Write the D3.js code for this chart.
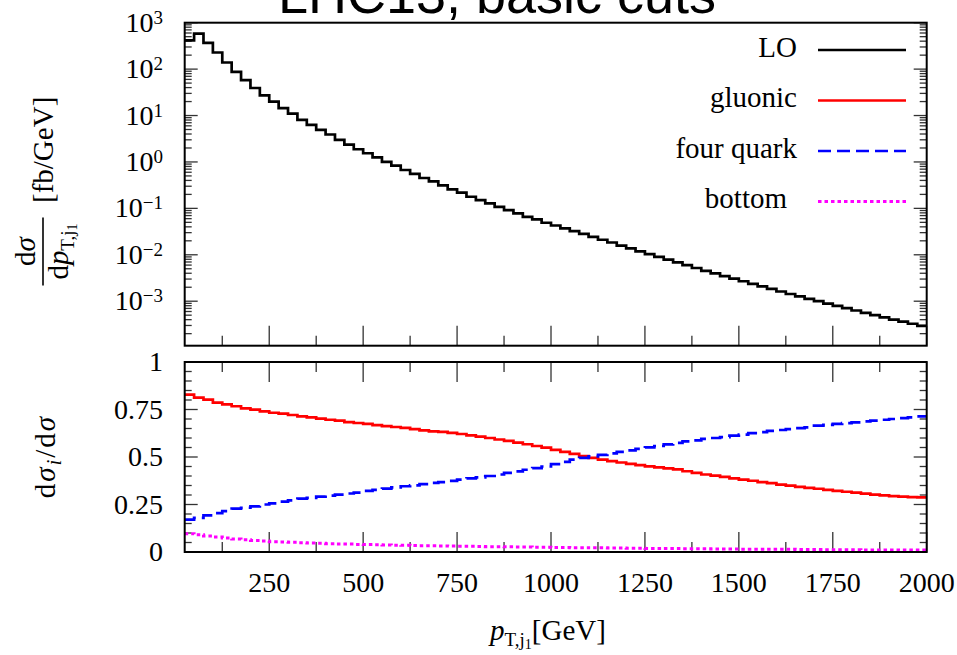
<!DOCTYPE html>
<html><head><meta charset="utf-8">
<script src="https://cdn.jsdelivr.net/npm/d3@7"></script>
<style>
body{margin:0;background:#fff}
svg{display:block}
text{font-family:"Liberation Serif","Times New Roman",serif;fill:#000}
</style>
</head><body>
<svg id="c" width="957" height="655"></svg>
<script>
// ---------- data ----------
const binStart = d3.range(25, 2000, 25);   // lower bin edges [GeV]
const binWidth = 25;
const loValues = [418,581,366,228,139,87.5,58.1,39.2,27.3,20.0,
  14.5,11.0,8.1,6.3,4.9,3.9,3.0,2.37,1.88,1.54,
  1.26,1.00,0.834,0.671,0.551,0.451,0.382,0.313,0.257,0.218,
  0.178,0.151,0.128,0.108,0.0918,0.0778,0.0659,0.0578,0.0490,0.0427,
  0.0372,0.0324,0.0282,0.0243,0.0211,0.0184,0.0158,0.0138,0.0119,0.01035,
  0.00902,0.00785,0.00684,0.00596,0.00519,0.00452,0.00398,0.00347,0.00305,0.00269,
  0.00237,0.00209,0.00184,0.00162,0.00143,0.00127,0.00112,0.00100,0.00089,0.000794,
  0.000708,0.000631,0.000562,0.000501,0.000447,0.000403,0.000363,0.000327,0.000295];
const gluonicRatio = [0.828,0.812,0.802,0.786,0.777,0.767,0.756,0.749,0.740,0.733,
  0.728,0.721,0.714,0.709,0.702,0.696,0.691,0.684,0.679,0.674,
  0.668,0.663,0.658,0.653,0.647,0.640,0.635,0.632,0.627,0.621,
  0.614,0.607,0.600,0.592,0.585,0.576,0.567,0.558,0.549,0.538,
  0.527,0.516,0.505,0.495,0.486,0.478,0.471,0.464,0.457,0.451,
  0.445,0.440,0.435,0.425,0.416,0.408,0.402,0.395,0.388,0.381,
  0.375,0.368,0.362,0.355,0.349,0.343,0.338,0.333,0.327,0.322,
  0.317,0.312,0.307,0.302,0.298,0.294,0.291,0.289,0.287];
const fourQuarkRatio = [0.170,0.180,0.193,0.205,0.215,0.228,0.233,0.240,0.250,0.256,
  0.265,0.272,0.281,0.285,0.291,0.297,0.302,0.308,0.313,0.322,
  0.327,0.334,0.340,0.346,0.351,0.357,0.364,0.368,0.374,0.381,
  0.387,0.393,0.400,0.408,0.416,0.424,0.433,0.441,0.450,0.462,
  0.474,0.486,0.495,0.503,0.511,0.519,0.527,0.535,0.543,0.551,
  0.558,0.566,0.574,0.582,0.588,0.595,0.600,0.605,0.612,0.618,
  0.626,0.631,0.637,0.642,0.647,0.652,0.656,0.665,0.669,0.674,
  0.678,0.682,0.687,0.691,0.696,0.700,0.705,0.709,0.714];
const bottomRatio = [0.096,0.091,0.084,0.079,0.074,0.068,0.065,0.061,0.058,0.054,
  0.053,0.051,0.049,0.047,0.046,0.044,0.042,0.042,0.040,0.039,
  0.038,0.037,0.036,0.035,0.034,0.033,0.033,0.032,0.031,0.030,
  0.030,0.029,0.028,0.028,0.027,0.026,0.026,0.025,0.025,0.024,
  0.024,0.023,0.023,0.022,0.022,0.021,0.021,0.020,0.020,0.019,
  0.019,0.018,0.018,0.017,0.017,0.017,0.016,0.016,0.016,0.015,
  0.015,0.015,0.014,0.014,0.014,0.013,0.013,0.013,0.012,0.012,
  0.012,0.012,0.011,0.011,0.011,0.011,0.010,0.010,0.010];
const xMajorTicks = [250,500,750,1000,1250,1500,1750,2000];
const xMinorTicks = [125,375,625,875,1125,1375,1625,1875];
const yTopExponents = [-3,-2,-1,0,1,2,3];
const yBotTicks = [0,0.25,0.5,0.75,1];
const yBotTickLabels = ["0","0.25","0.5","0.75","1"];
const legendLabels = ["LO","gluonic","four quark","bottom"];
const titleText = "LHC13, basic cuts";

// ---------- layout ----------
const svg = d3.select("#c");
const L = 184.7, R = 926.7;
const topT = 22.7, topB = 345.7, botT = 362, botB = 552;
const x = d3.scaleLinear().domain([25, 2000]).range([L, R]);
const yTop = d3.scaleLog().domain([1.1e-4, 1000]).range([topB, topT]);
const yBot = d3.scaleLinear().domain([0, 1]).range([botB, botT]);

const series = [
  {name: legendLabels[0], vals: loValues, color: "#000", dash: null, w: 2.7, panel: "top"},
  {name: legendLabels[1], vals: gluonicRatio, color: "#ff0000", dash: null, w: 2.7, panel: "bot"},
  {name: legendLabels[2], vals: fourQuarkRatio, color: "#0000ff", dash: "13,6", w: 2.7, panel: "bot"},
  {name: legendLabels[3], vals: bottomRatio, color: "#ff00ff", dash: "3.5,3", w: 3, panel: "bot"}
];

// title
svg.append("text").attr("x", 497).attr("y", 13).attr("text-anchor", "middle")
  .style("font-family", '"Liberation Sans", Arial, sans-serif').style("font-size", "54px")
  .text(titleText);

// clips
const defs = svg.append("defs");
defs.append("clipPath").attr("id", "clipTop").append("rect")
  .attr("x", L).attr("y", topT).attr("width", R - L).attr("height", topB - topT);
defs.append("clipPath").attr("id", "clipBot").append("rect")
  .attr("x", L).attr("y", botT).attr("width", R - L).attr("height", botB - botT);

const tickColor = "#333";
function tick(g, x1, y1, x2, y2) {
  g.append("line").attr("x1", x1).attr("y1", y1).attr("x2", x2).attr("y2", y2)
    .attr("stroke", tickColor).attr("stroke-width", 1.3);
}

// ----- top panel ticks -----
const gT = svg.append("g");
yTopExponents.forEach(e => {
  const yy = yTop(Math.pow(10, e));
  tick(gT, L, yy, L + 13, yy); tick(gT, R, yy, R - 13, yy);
});
for (let e = -4; e <= 2; e++) {
  for (let m = 2; m <= 9; m++) {
    const v = m * Math.pow(10, e);
    if (v < 1.1e-4 || v > 1000) continue;
    const yy = yTop(v);
    tick(gT, L, yy, L + 7, yy); tick(gT, R, yy, R - 7, yy);
  }
}
xMajorTicks.forEach(t => tick(gT, x(t), topB, x(t), topB - 20));
xMinorTicks.forEach(t => tick(gT, x(t), topB, x(t), topB - 10));

gT.selectAll("text.yl").data(yTopExponents).enter().append("text")
  .attr("class", "yl")
  .attr("x", 163).attr("y", e => yTop(Math.pow(10, e)) + 9)
  .attr("text-anchor", "end").style("font-size", "28px")
  .each(function(e) {
    const t = d3.select(this);
    t.append("tspan").text("10");
    t.append("tspan").attr("dy", -8).style("font-size", "19px")
      .text(e < 0 ? "\u2212" + (-e) : String(e));
  });

// ----- bottom panel ticks -----
const gB = svg.append("g");
for (let i = 0; i <= 20; i++) {
  const v = i * 0.05;
  const major = (i % 5 === 0);
  const yy = yBot(v);
  const len = major ? 13 : 7;
  tick(gB, L, yy, L + len, yy); tick(gB, R, yy, R - len, yy);
}
xMajorTicks.forEach(t => {
  tick(gB, x(t), botB, x(t), botB - 20);
  tick(gB, x(t), botT, x(t), botT + 20);
});
xMinorTicks.forEach(t => {
  tick(gB, x(t), botB, x(t), botB - 10);
  tick(gB, x(t), botT, x(t), botT + 10);
});
gB.selectAll("text.yb").data(yBotTicks).enter().append("text")
  .attr("class", "yb").attr("x", 163).attr("y", d => yBot(d) + 9)
  .attr("text-anchor", "end").style("font-size", "28px")
  .text((d, i) => yBotTickLabels[i]);
gB.selectAll("text.xb").data(xMajorTicks).enter().append("text")
  .attr("class", "xb").attr("x", d => x(d)).attr("y", 592)
  .attr("text-anchor", "middle").style("font-size", "28px")
  .text(d => String(d));

// ----- curves -----
const stepLine = (yScale) => d3.line()
  .x(d => x(d[0])).y(d => yScale(d[1])).curve(d3.curveStepAfter);
series.forEach(s => {
  const pts = binStart.map((b, i) => [b, s.vals[i]]);
  pts.push([binStart[binStart.length - 1] + binWidth, s.vals[s.vals.length - 1]]);
  const ys = s.panel === "top" ? yTop : yBot;
  const p = svg.append("path")
    .attr("d", stepLine(ys)(pts))
    .attr("fill", "none").attr("stroke", s.color).attr("stroke-width", s.w)
    .attr("stroke-linejoin", "miter").attr("stroke-linecap", "butt")
    .attr("clip-path", s.panel === "top" ? "url(#clipTop)" : "url(#clipBot)");
  if (s.dash) p.attr("stroke-dasharray", s.dash);
});

// frames
[[topT, topB], [botT, botB]].forEach(([t, b]) => {
  svg.append("rect").attr("x", L).attr("y", t).attr("width", R - L).attr("height", b - t)
    .attr("fill", "none").attr("stroke", "#000").attr("stroke-width", 2);
});

// ----- legend -----
const legendY = [50, 100.5, 151, 201.5];
const legendTextX = [797, 797, 797, 787];
series.forEach((s, i) => {
  svg.append("text").attr("x", legendTextX[i]).attr("y", legendY[i] + 6.5)
    .attr("text-anchor", "end").style("font-size", "29px").text(s.name);
  const ln = svg.append("line").attr("x1", 818).attr("x2", 906)
    .attr("y1", legendY[i]).attr("y2", legendY[i])
    .attr("stroke", s.color).attr("stroke-width", s.w);
  if (s.dash) ln.attr("stroke-dasharray", s.dash);
});

// ----- axis titles -----
const gy = svg.append("g").attr("transform", "translate(43,251.5) rotate(-90)");
gy.append("line").attr("x1", -34).attr("x2", 34).attr("y1", 0).attr("y2", 0)
  .attr("stroke", "#000").attr("stroke-width", 1.6);
const num = gy.append("text").attr("x", 0).attr("y", -8).attr("text-anchor", "middle").style("font-size", "29px");
num.append("tspan").text("d");
num.append("tspan").style("font-style", "italic").text("σ");
const den = gy.append("text").attr("x", 0).attr("y", 25).attr("text-anchor", "middle").style("font-size", "29px");
den.append("tspan").text("d");
den.append("tspan").style("font-style", "italic").text("p");
den.append("tspan").attr("dy", 6).style("font-size", "19px").text("T,j");
den.append("tspan").attr("dy", 3).style("font-size", "14px").text("1");
gy.append("text").attr("x", 48.5).attr("y", 10).attr("text-anchor", "start")
  .style("font-size", "29px").text("[fb/GeV]");

const gy2 = svg.append("g").attr("transform", "translate(55,456.5) rotate(-90)");
const t2 = gy2.append("text").attr("x", 0).attr("y", 0).attr("text-anchor", "middle")
  .style("font-size", "29px").style("letter-spacing", "2px");
t2.append("tspan").text("d");
t2.append("tspan").style("font-style", "italic").text("σ");
t2.append("tspan").attr("dy", 6).style("font-size", "20px").style("font-style", "italic").text("i");
t2.append("tspan").attr("dy", -6).text("/d");
t2.append("tspan").style("font-style", "italic").text("σ");

const xl = svg.append("text").attr("x", 548).attr("y", 640).attr("text-anchor", "middle").style("font-size", "29px");
xl.append("tspan").style("font-style", "italic").text("p");
xl.append("tspan").attr("dy", 6).style("font-size", "19px").text("T,j");
xl.append("tspan").attr("dy", 3).style("font-size", "14px").text("1");
xl.append("tspan").attr("dy", -9).text("[GeV]");
</script>
</body></html>
